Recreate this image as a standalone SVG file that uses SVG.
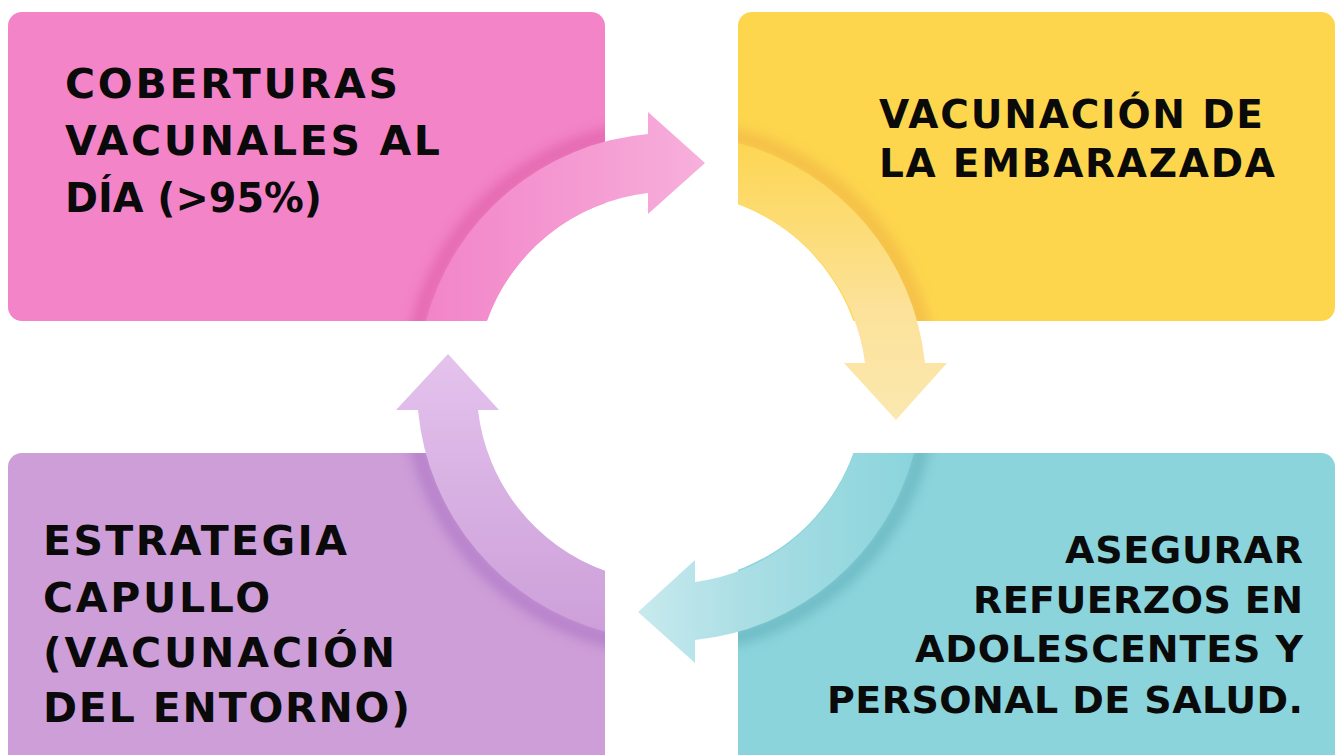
<svg xmlns="http://www.w3.org/2000/svg" width="1336" height="755" viewBox="0 0 1336 755">
<style>
.lbl{font-family:"DejaVu Sans","Liberation Sans",Arial,sans-serif;font-weight:bold;fill:#0a0a0a;}
.sh{fill:none;stroke-width:16;filter:url(#blur);opacity:0.55;}
</style>
<defs>
<filter id="blur" x="-20%" y="-20%" width="140%" height="140%"><feGaussianBlur stdDeviation="6"/></filter>
<clipPath id="cPink"><rect x="8" y="12" width="597" height="309" rx="14"/></clipPath>
<clipPath id="cYel"><rect x="738" y="12" width="597" height="309" rx="14"/></clipPath>
<clipPath id="cCya"><rect x="738" y="453" width="597" height="330" rx="14"/></clipPath>
<clipPath id="cPur"><rect x="8" y="453" width="597" height="330" rx="14"/></clipPath>
<linearGradient id="gPink" gradientUnits="userSpaceOnUse" x1="430" y1="0" x2="705" y2="0">
<stop offset="0" stop-color="#f285c9"/><stop offset="0.6" stop-color="#f59dd3"/><stop offset="1" stop-color="#f7b0dc"/></linearGradient>
<linearGradient id="gYel" gradientUnits="userSpaceOnUse" x1="0" y1="143" x2="0" y2="420">
<stop offset="0" stop-color="#fdd652"/><stop offset="0.6" stop-color="#fce29a"/><stop offset="1" stop-color="#fbe8b0"/></linearGradient>
<linearGradient id="gCya" gradientUnits="userSpaceOnUse" x1="915" y1="0" x2="638" y2="0">
<stop offset="0" stop-color="#8bd4dc"/><stop offset="0.6" stop-color="#a9dee4"/><stop offset="1" stop-color="#c8eaee"/></linearGradient>
<linearGradient id="gPur" gradientUnits="userSpaceOnUse" x1="0" y1="632" x2="0" y2="354">
<stop offset="0" stop-color="#cd9fd9"/><stop offset="0.6" stop-color="#dab4e5"/><stop offset="1" stop-color="#e4c3ed"/></linearGradient>
</defs>

<g id="node-coberturas">
<rect x="8" y="12" width="597" height="309" rx="14" fill="#f384c8"/>
</g>
<g id="node-embarazada">
<rect x="738" y="12" width="597" height="309" rx="14" fill="#fdd64e"/>
</g>
<g id="node-refuerzos">
<rect x="738" y="453" width="597" height="330" rx="14" fill="#8bd4dc"/>
</g>
<g id="node-capullo">
<rect x="8" y="453" width="597" height="330" rx="14" fill="#cd9ed8"/>
</g>

<circle cx="670" cy="387" r="195" fill="#ffffff"/>

<g id="connectors">
<g clip-path="url(#cPink)"><path class="sh" stroke="#d9559f" d="M414.9,342 A259,259 0 0 1 647.4,129"/></g>
<g clip-path="url(#cYel)"><path class="sh" stroke="#eeae44" d="M715,131.9 A259,259 0 0 1 928.8,378"/></g>
<g clip-path="url(#cCya)"><path class="sh" stroke="#5aa9b4" d="M925.1,432 A259,259 0 0 1 679,645.8"/></g>
<g clip-path="url(#cPur)"><path class="sh" stroke="#a56bc0" d="M625,642.1 A259,259 0 0 1 411.2,396"/></g>

<path fill="url(#gPink)" d="M426,321 A253,253 0 0 1 648,134 L648,112 L705,163 L648,214 L648,193 A195,195 0 0 0 487,321 Z"/>
<path fill="url(#gYel)" d="M738,143 A255,255 0 0 1 925,363 L947,363 L896,420 L844,363 L865,363 A196,196 0 0 0 738,204 Z"/>
<path fill="url(#gCya)" d="M914,453 A253,253 0 0 1 695,640 L695,663 L638,612 L695,560 L695,582 A195,195 0 0 0 854,453 Z"/>
<path fill="url(#gPur)" d="M605,631.5 A253,253 0 0 1 418,410 L396,410 L448,354 L499,410 L478,410 A195,195 0 0 0 605,571 Z"/>
</g>

<g id="text-coberturas" class="lbl" font-size="41">
<text x="65" y="98" textLength="333" lengthAdjust="spacing">COBERTURAS</text>
<text x="65" y="155" textLength="375" lengthAdjust="spacing">VACUNALES AL</text>
<text x="65" y="212" textLength="257" lengthAdjust="spacingAndGlyphs">DÍA (&gt;95%)</text>
</g>
<g id="text-embarazada" class="lbl" font-size="39">
<text x="879" y="128" textLength="384" lengthAdjust="spacing">VACUNACIÓN DE</text>
<text x="879" y="177" textLength="396" lengthAdjust="spacing">LA EMBARAZADA</text>
</g>
<g id="text-refuerzos" class="lbl" font-size="38" text-anchor="end">
<text x="1303" y="563" textLength="238" lengthAdjust="spacing">ASEGURAR</text>
<text x="1303" y="613" textLength="330" lengthAdjust="spacing">REFUERZOS EN</text>
<text x="1303" y="662" textLength="388" lengthAdjust="spacing">ADOLESCENTES Y</text>
<text x="1303" y="713" textLength="476" lengthAdjust="spacing">PERSONAL DE SALUD.</text>
</g>
<g id="text-capullo" class="lbl" font-size="41">
<text x="43" y="555" textLength="304" lengthAdjust="spacing">ESTRATEGIA</text>
<text x="43" y="612" textLength="227" lengthAdjust="spacing">CAPULLO</text>
<text x="43" y="667" textLength="352" lengthAdjust="spacing">(VACUNACIÓN</text>
<text x="43" y="722" textLength="367" lengthAdjust="spacing">DEL ENTORNO)</text>
</g>
</svg>
